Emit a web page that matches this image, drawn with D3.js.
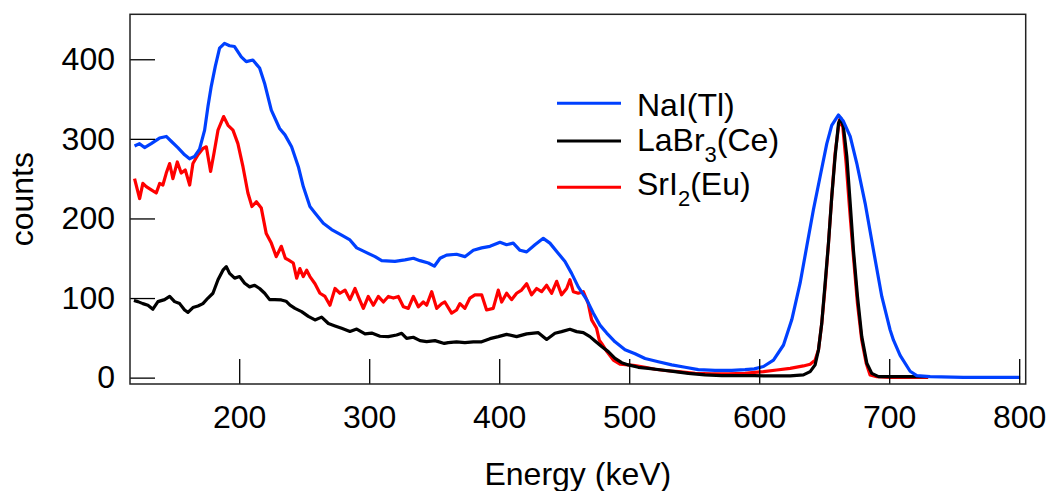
<!DOCTYPE html>
<html>
<head>
<meta charset="utf-8">
<script src="https://cdn.jsdelivr.net/npm/d3@7"></script>
<style>
    body { margin: 0; background: #fff; }
    svg { display: block; font-family: "Liberation Sans", Arial, sans-serif; }
</style>
</head>
<body>
<div id="chart"></div>
<script>
// NaI(Tl) spectrum
const naiEnergy = [119.5,123.3,127.2,132.3,138.7,143.9,147.7,152.8,158,161.8,165.7,169.5,173.4,176,178.5,181.6,184.9,188.7,192.6,196.4,201.6,205.4,210.5,215.7,219.5,224.7,231.1,235.2,240.3,245.5,249.3,254.4,258.3,264.7,271.1,278.8,285.2,290.4,296.8,304.5,309.6,319.8,327.5,334,339.1,345.5,350.1,354.5,359.5,367.2,373.6,380.1,386.5,392.9,400.6,405.7,410.8,416,421.1,427.5,433.9,439,445.5,450.6,455.7,460.8,467.3,472.4,477.5,482.7,489.1,496.8,504.5,512.2,522.4,532.7,543,553.2,566,578.9,589.1,596.3,603.3,611,618.7,625.1,631.5,636.6,641.7,646.9,652,655.8,661,664.8,670,675.1,681.5,687.9,694.3,700.7,703.3,708.4,716.1,721.2,731.5,757.1,800.7];
const naiCounts = [291,294,289,294,301,303,297,289,280,275,278,287,311,341,366,391,414,420,417,416,403,397,399,389,370,336,313,305,290,265,240,215,207,194,186,179,173,163,158,152,147,146,148,150,147,144,140,150,154,155,152,160,163,165,170,167,169,160,158,167,175,169,156,146,131,114,98,81,66,56,45,35,30,24,20,16,13,10,9,9,10,11,14,22,41,73,119,165,211,253,294,317,330,322,303,269,219,160,102,60,47,28,8,2.5,1.3,0.4,0.4];

// LaBr3(Ce) spectrum
const labrEnergy = [119,122.1,125.9,129.8,133.6,137.5,142.6,146.5,150.3,154.2,158,160.6,164.4,168.3,172.1,176,179.8,183.7,187.5,190.1,192.6,196.5,200.3,204.2,208,211.9,215.7,219.6,223.4,227.3,232.4,236,239.1,242.9,248,253.2,258.3,263.4,268.6,273.7,278.8,285.2,290.4,296.8,301.9,308.3,314.7,321.1,325,328.8,333.9,339.1,344.2,350.6,357.8,360.8,367.2,373.6,380.1,386.5,392.9,399.3,405.7,413.4,421.1,430.1,436.5,442.9,448,454.4,459.6,464.7,469.8,473.7,478.8,483.9,489.1,494.2,499.4,507,514.7,525,535.3,545.5,558.3,571.2,584,596.3,608.4,623.8,634,639.2,643,645.6,648.1,650.7,653.3,655.8,658.4,661,662.8,664.8,667.4,670,672.5,675.6,678.9,682.8,686.6,691.8,700.7,730];
const labrCounts = [97,95.5,93,91,86,95.5,98,102,95.5,93,85,82,88,90,93,100,106,123,135,139.5,131,125,127,118.5,114,116,112,106,98,98,97.6,96,91,87,83,77,72.5,76,68,65,62,58,61,55,56,52,51.5,53.6,55.7,49.4,50.7,46.5,45.2,46.5,43,44,45,44,45,45,49,51.5,54.4,51.5,55,56.5,48,55.7,57.8,60.7,57.8,56.5,51.5,46,39,32.7,24.3,18.8,16,13,11.7,9.6,7.5,5.4,3.4,2.5,2.5,2.5,2.1,2.1,3.4,7.5,16,35,68,118.5,169,227,278,319.5,326,315,278,219,160,102,51.5,18,5.4,1.3,1.3,1.3];

// SrI2(Eu) spectrum
const sriEnergy = [119.5,123.4,125.9,128.5,132.4,136.2,138.8,141.3,143.9,146.5,149,152.4,155.4,158.5,161.9,164.4,168.3,172.1,174.7,178,180.6,183.7,188,191.4,195.2,199,202.9,206.7,209.8,213.2,217,220.8,224.7,228.5,232.4,235.5,237.8,241.6,244.2,246.7,249.3,251.9,254.4,258.3,262.1,266,269.8,273.7,277.5,281.4,285.2,289.1,292.1,295.5,299.3,303.2,307,310.9,314.7,318.6,322.4,326.3,330.1,334,337.8,341.6,344.2,348.1,351.9,355.8,358.2,363.4,367.2,369.8,373.6,377.5,381.3,386.5,390.3,395.4,399.3,401.9,405.7,409.5,413.4,417.2,421.1,424.9,428.8,432.6,436.5,440.3,444.2,448,451.9,454.4,457,460.8,464.7,468.5,471.1,474.9,477,478.8,482.7,487.8,492.9,499.4,504.5,512.2,519.9,527.6,537.8,550.7,563.5,576.3,589.1,596.3,603.3,613.5,623.8,634,639.2,643,645.6,648.1,650.7,653.3,655.8,658.4,661.7,664.3,666.9,669.4,672.5,675.6,678.9,682.3,685.3,690.5,700.7,730];
const sriCounts = [250,225,244,240,236,232,244,242,257,269,250,271,257,261,242,269,280,288,290,259,282,311,328,317,311,294,265,232,215,221,213,181,169,152,165,150,148,144,125,137,127,135,127,118,106,102,91,112,106,110,98,112,100,87,102,91,102,95,102,100,102,89,87,102,89,95,91,108,87,93,95,81,85,93,87,100,104,104,85,87,110,95,106,98,106,110,118,104,112,108,116,106,121,104,112,123,108,106,108,93,72.5,62,47,43,33,22,17,16,15,13,10.5,9,7.5,5.4,4.6,4.6,5.4,6.5,7.5,9.6,11.7,14.7,16.8,22,35,68,114,169,227,282,324,315,269,215,152,93,47,18,3.4,1.3,0.4,0.4];

const xTicks = [200, 300, 400, 500, 600, 700, 800];
const yTicks = [0, 100, 200, 300, 400];

const width = 1051;
const height = 491;
const margin = { top: 14.3, right: 25.3, bottom: 107, left: 130 };
const fontSize = 32;

const series = [
    { name: 'SrI', sub: '2', rest: '(Eu)', color: '#ff0000', energy: sriEnergy, counts: sriCounts },
    { name: 'LaBr', sub: '3', rest: '(Ce)', color: '#000000', energy: labrEnergy, counts: labrCounts },
    { name: 'NaI(Tl)', sub: '', rest: '', color: '#0040ff', energy: naiEnergy, counts: naiCounts }
];
const legendOrder = ['NaI(Tl)', 'LaBr', 'SrI'];

const svg = d3.select('#chart').append('svg')
    .attr('width', width)
    .attr('height', height)
    .attr('viewBox', `0 0 ${width} ${height}`);

const xScale = d3.scaleLinear()
    .domain([116, 805])
    .range([margin.left, width - margin.right]);

const yScale = d3.scaleLinear()
    .domain([-8, 456.5])
    .range([height - margin.bottom, margin.top]);

// curves
const line = d3.line()
    .x(d => xScale(d[0]))
    .y(d => yScale(d[1]));

svg.append('g')
    .selectAll('path')
    .data(series)
    .enter()
    .append('path')
    .attr('d', s => line(d3.zip(s.energy, s.counts)))
    .attr('fill', 'none')
    .attr('stroke', s => s.color)
    .attr('stroke-width', 3.2)
    .attr('stroke-linejoin', 'round');

// axes, ticks point inward
const xAxis = d3.axisBottom(xScale)
    .tickValues(xTicks)
    .tickSizeInner(-25)
    .tickSizeOuter(0)
    .tickPadding(21);

const yAxis = d3.axisLeft(yScale)
    .tickValues(yTicks)
    .tickSizeInner(-25)
    .tickSizeOuter(0)
    .tickPadding(15);

const gx = svg.append('g')
    .attr('transform', `translate(0,${height - margin.bottom})`)
    .call(xAxis);

const gy = svg.append('g')
    .attr('transform', `translate(${margin.left},0)`)
    .call(yAxis);

[gx, gy].forEach(g => {
    g.select('.domain').remove();
    g.selectAll('line').attr('stroke', '#000').attr('stroke-width', 1.3);
    g.selectAll('text').attr('font-size', fontSize).attr('fill', '#000')
        .attr('font-family', '"Liberation Sans", Arial, sans-serif');
});

// frame
svg.append('rect')
    .attr('x', margin.left)
    .attr('y', margin.top)
    .attr('width', width - margin.left - margin.right)
    .attr('height', height - margin.top - margin.bottom)
    .attr('fill', 'none')
    .attr('stroke', '#222')
    .attr('stroke-width', 1.5);

// axis titles
svg.append('text')
    .attr('x', (margin.left + width - margin.right) / 2)
    .attr('y', 485)
    .attr('text-anchor', 'middle')
    .attr('font-size', fontSize)
    .text('Energy (keV)');

svg.append('text')
    .attr('transform', `translate(33,${(margin.top + height - margin.bottom) / 2}) rotate(-90)`)
    .attr('text-anchor', 'middle')
    .attr('font-size', fontSize)
    .text('counts');

// legend
const legendLineY = [103.3, 141, 187.3];
const legendTextY = [116, 151, 195];

const legend = svg.append('g');
legendOrder.forEach((key, i) => {
    const s = series.find(d => d.name === key);
    legend.append('line')
        .attr('x1', 557)
        .attr('x2', 621)
        .attr('y1', legendLineY[i])
        .attr('y2', legendLineY[i])
        .attr('stroke', s.color)
        .attr('stroke-width', 3);

    const t = legend.append('text')
        .attr('x', 637)
        .attr('y', legendTextY[i])
        .attr('font-size', fontSize);
    t.append('tspan').text(s.name);
    if (s.sub) {
        t.append('tspan').attr('dy', 11).attr('font-size', 22).text(s.sub);
        t.append('tspan').attr('dy', -11).text(s.rest);
    }
});
</script>
</body>
</html>
